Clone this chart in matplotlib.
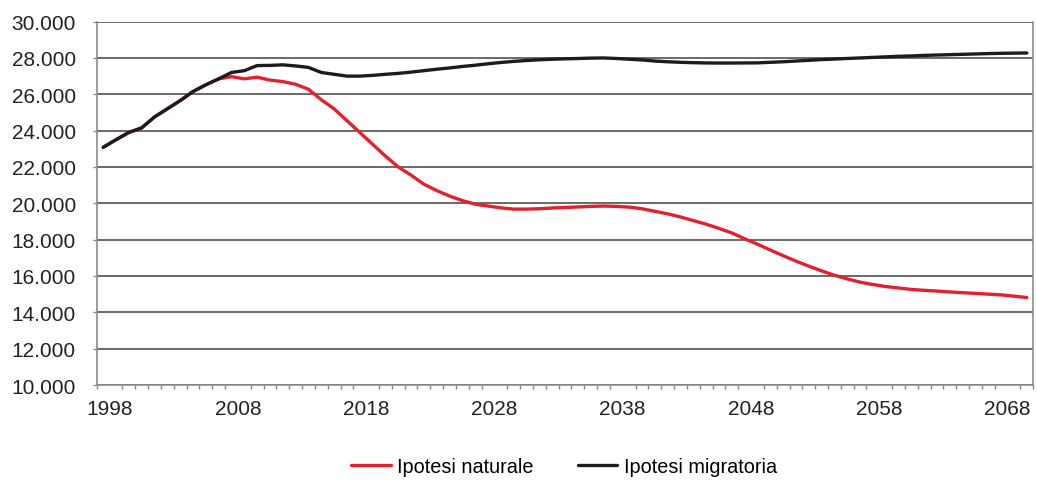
import numpy as np
import matplotlib
matplotlib.use('Agg')
import matplotlib.pyplot as plt
from matplotlib.ticker import FuncFormatter

plt.rcParams['font.family'] = ['Liberation Sans', 'DejaVu Sans']

years = list(range(1998, 2071))

# ipotesi migratoria (linea nera)
migratoria = [23080, 23500, 23900, 24150, 24750, 25200, 25650, 26150, 26520, 26850,
              27200, 27300, 27580, 27590, 27620, 27560, 27480, 27200, 27100, 27000,
              27000, 27040, 27100, 27150, 27220, 27300, 27380, 27450, 27530, 27600,
              27680, 27750, 27810, 27860, 27900, 27930, 27950, 27970, 27990, 28000,
              27970, 27930, 27890, 27830, 27790, 27760, 27740, 27725, 27720, 27720,
              27725, 27730, 27760, 27790, 27830, 27870, 27910, 27940, 27970, 28000,
              28030, 28060, 28090, 28110, 28140, 28160, 28180, 28200, 28220, 28240,
              28255, 28265, 28275]

# ipotesi naturale (linea rossa)
naturale = [23080, 23500, 23900, 24150, 24750, 25200, 25650, 26150, 26520, 26850,
            26970, 26850, 26940, 26780, 26700, 26550, 26280, 25700, 25200, 24550,
            23900, 23250, 22600, 22000, 21550, 21050, 20700, 20400, 20150, 19950,
            19850, 19750, 19680, 19680, 19700, 19740, 19770, 19800, 19830, 19850,
            19830, 19790, 19700, 19560, 19420, 19250, 19050, 18850, 18620, 18370,
            18050, 17750, 17430, 17120, 16820, 16540, 16280, 16040, 15840, 15660,
            15530, 15420, 15340, 15260, 15210, 15170, 15120, 15080, 15040, 15000,
            14960, 14890, 14815]

label_years = [1998, 2008, 2018, 2028, 2038, 2048, 2058, 2068]

fig = plt.figure(figsize=(10.37, 4.81), dpi=100)
ax = fig.add_axes([0.0933, 0.1975, 0.9031, 0.7555])

ax.plot(years, naturale, color='#e2202e', lw=2.4, label='Ipotesi naturale', solid_capstyle='round', zorder=3)
ax.plot(years, migratoria, color='#1c1c1c', lw=2.4, label='Ipotesi migratoria', solid_capstyle='round', zorder=4)

ax.set_xlim(years[0] - 0.5, years[-1] + 0.5)
ax.set_ylim(10000, 30000)
ax.set_yticks(np.arange(10000, 30001, 2000))
ax.yaxis.set_major_formatter(FuncFormatter(lambda v, p: f'{int(v):,}'.replace(',', '.')))
ax.grid(axis='y', color='#5e5e5e', lw=1.3)
ax.set_axisbelow(True)

# etichette sugli anni, tacche tra le categorie
ax.set_xticks([y + 0.5 for y in label_years])
ax.set_xticklabels([str(y) for y in label_years])
ax.set_xticks(np.arange(years[0] - 0.5, years[-1] + 1.0, 1), minor=True)
ax.tick_params(axis='x', which='major', length=0, pad=10, labelsize=15, colors='#222222')
ax.tick_params(axis='x', which='minor', length=3, width=1, color='#888888', direction='out')
ax.tick_params(axis='y', length=3, width=1, color='#888888', pad=12, labelsize=15, labelcolor='#222222')

for s in ['left', 'right', 'bottom']:
    ax.spines[s].set_color('#8c8c8c')
    ax.spines[s].set_linewidth(1.2)
ax.spines['top'].set_visible(False)

fig.legend(loc='center', bbox_to_anchor=(0.544, 0.029), ncol=2, frameon=False,
           fontsize=14.3, handlelength=2.0, handletextpad=0.35, columnspacing=2.2)

fig.savefig('out.png', dpi=100)
